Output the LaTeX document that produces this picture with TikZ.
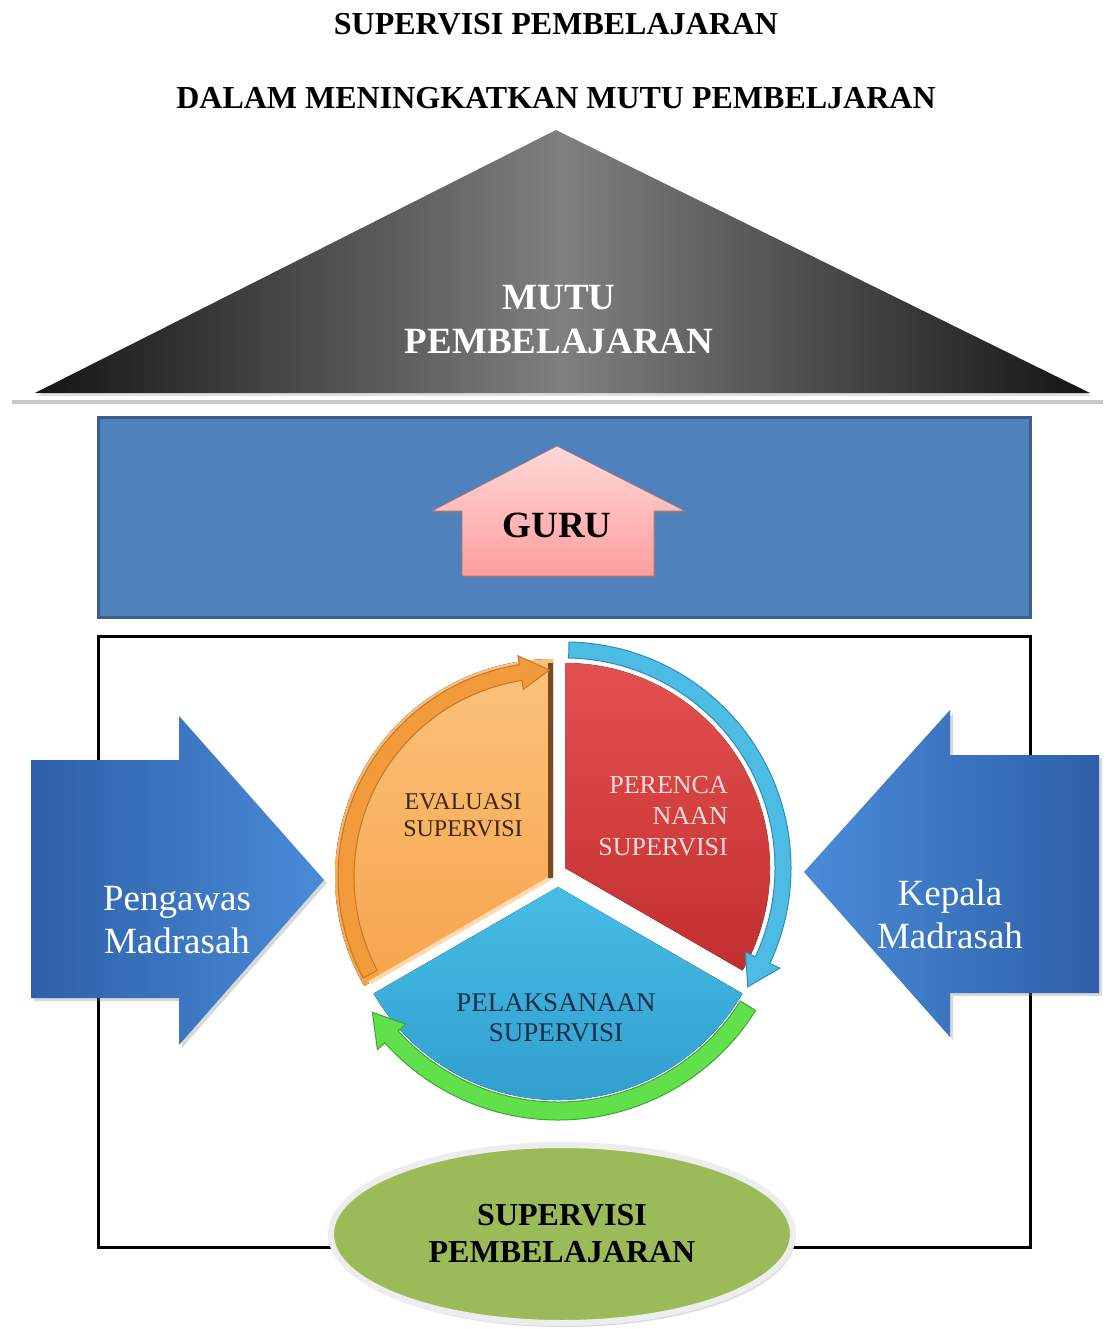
\documentclass[tikz,border=0pt]{standalone}
\usepackage{fontspec}
\setmainfont{Liberation Serif}
\usetikzlibrary{shapes.geometric,shadows}

\definecolor{rectBlue}{HTML}{4F81BD}
\definecolor{rectEdge}{HTML}{3A5F8C}
\definecolor{arrDark}{HTML}{2D60A8}
\definecolor{arrLight}{HTML}{4A8BD8}
\definecolor{pinkL}{HTML}{FFD8D8}
\definecolor{pinkD}{HTML}{FF9E9E}
\definecolor{orL}{HTML}{FCC27C}
\definecolor{orD}{HTML}{F6A44C}
\definecolor{orA}{HTML}{F29B3C}
\definecolor{orB}{HTML}{C7752A}
\definecolor{orEdge}{HTML}{7B4A1E}
\definecolor{redL}{HTML}{E2504F}
\definecolor{redD}{HTML}{C32F30}
\definecolor{cyA}{HTML}{4DBCE4}
\definecolor{cyB}{HTML}{2C8DB4}
\definecolor{blL}{HTML}{46BCE6}
\definecolor{blD}{HTML}{2F9BCB}
\definecolor{grA}{HTML}{62E04C}
\definecolor{grB}{HTML}{3DA630}
\definecolor{olive}{HTML}{9BBB59}
\definecolor{evalTxt}{HTML}{3E2611}
\definecolor{perTxt}{HTML}{FFDADA}
\definecolor{pelTxt}{HTML}{1C2F4A}

% curved band arrow: style, start angle, end angle, radius, half width, half head width, head angle
\newcommand{\pieArrow}[7]{%
  \filldraw[#1] ({#2}:{#4+#5}) arc[start angle={#2}, end angle={#3+#7}, radius={#4+#5}]
    -- ({#3+#7}:{#4+#6}) -- ({#3}:{#4}) -- ({#3+#7}:{#4-#6}) -- ({#3+#7}:{#4-#5})
    arc[start angle={#3+#7}, end angle={#2}, radius={#4-#5}] -- cycle;}

\tikzset{
  titletxt/.style={font=\fontsize{32}{38}\selectfont\bfseries},
  bigarrow/.style={drop shadow={opacity=0.3, shadow xshift=3pt, shadow yshift=-3pt}},
  whitetxt/.style={text=white, font=\fontsize{37}{43}\selectfont, align=center},
}

\begin{document}
\begin{tikzpicture}[x=1pt, y=-1pt, every node/.style={inner sep=0pt, align=center}]
\useasboundingbox[fill=white] (0,0) rectangle (1105,1329);

% titles
\node[titletxt] (t1) at (556,24) {SUPERVISI PEMBELAJARAN};
\node[titletxt] (t2) at (556,98) {DALAM MENINGKATKAN MUTU PEMBELJARAN};

% roof triangle
\draw[line width=4, black!22] (12,402) -- (1103,402);
\path[left color=black!92, right color=black!92, middle color=black!50,
      drop shadow={opacity=0.25, shadow xshift=2pt, shadow yshift=-3pt}]
  (35,393) -- (556,130) -- (1090,393) -- cycle;
\node[text=white, font=\fontsize{37}{44}\selectfont\bfseries] (mutu) at (559,320) {MUTU\\PEMBELAJARAN};

% blue band with GURU arrow
\draw[fill=rectBlue, draw=rectEdge, line width=3] (98,417) rectangle (1030,617);
\path[top color=pinkL, bottom color=pinkD, draw=pinkD!70!black, line width=0.6,
      drop shadow={opacity=0.4, shadow xshift=2pt, shadow yshift=-3pt}]
  (557,446) -- (685,511) -- (654,511) -- (654,576) -- (462,576) -- (462,511) -- (432,511) -- cycle;
\node[font=\fontsize{37}{44}\selectfont\bfseries] (guru) at (557,525) {GURU};

% frame
\draw[line width=3] (98,636) rectangle (1030,1247);

% pie
\begin{scope}[shift={(557,880)}, y=1pt]
  \begin{scope}[shift={(-4,3)}]
    \fill[top color=orL, bottom color=orD] (0,0) -- (90:218) arc[start angle=90, end angle=210, radius=218] -- cycle;
    \draw[orEdge, line width=5] (-2.5,-1) -- (-2.5,214);
    \draw[orL!60!white, line width=4] (-4,-2) -- (210:212);
    \pieArrow{fill=orA, draw=orB, line width=1}{208}{91}{207}{8}{17}{8}
  \end{scope}
  \begin{scope}[shift={(8,12)}]
    \fill[top color=redL, bottom color=redD] (0,0) -- (90:205) arc[start angle=90, end angle=-30, radius=205] -- cycle;
    \pieArrow{fill=cyA, draw=cyB, line width=1}{89}{-33}{218}{8}{19}{8}
  \end{scope}
  \begin{scope}[shift={(1,-7)}]
    \fill[top color=blL, bottom color=blD] (0,0) -- (-30:213) arc[start angle=-30, end angle=-150, radius=213] -- cycle;
    \pieArrow{fill=grA, draw=grB, line width=1}{-32}{-146}{224}{9}{19}{8}
  \end{scope}
\end{scope}
\node[text=evalTxt, font=\fontsize{24}{27}\selectfont] (eval) at (463,815) {EVALUASI\\SUPERVISI};
\node[text=perTxt, font=\fontsize{26}{31}\selectfont, align=right, anchor=east] (pere) at (728,816) {PERENCA\\NAAN\\SUPERVISI};
\node[text=pelTxt, font=\fontsize{27}{30}\selectfont] (pel) at (556,1018) {PELAKSANAAN\\SUPERVISI};

% side arrows
\path[left color=arrDark, right color=arrLight, bigarrow]
  (31,760) -- (179,760) -- (179,716) -- (324,880) -- (179,1045) -- (179,998) -- (31,998) -- cycle;
\node[whitetxt] (peng) at (177,920) {Pengawas\\Madrasah};
\path[left color=arrLight, right color=arrDark, bigarrow]
  (1099,755) -- (950,755) -- (950,710) -- (804,872) -- (950,1037) -- (950,993) -- (1099,993) -- cycle;
\node[whitetxt] (kep) at (950,914) {Kepala\\Madrasah};

% bottom ellipse
\node[ellipse, fill=olive, draw=white!93!black, line width=6, minimum width=462, minimum height=178,
      drop shadow={opacity=0.3, shadow xshift=2pt, shadow yshift=-4pt},
      font=\fontsize{32}{37}\selectfont\bfseries] (sp) at (562,1234) {SUPERVISI\\PEMBELAJARAN};
\end{tikzpicture}
\end{document}
